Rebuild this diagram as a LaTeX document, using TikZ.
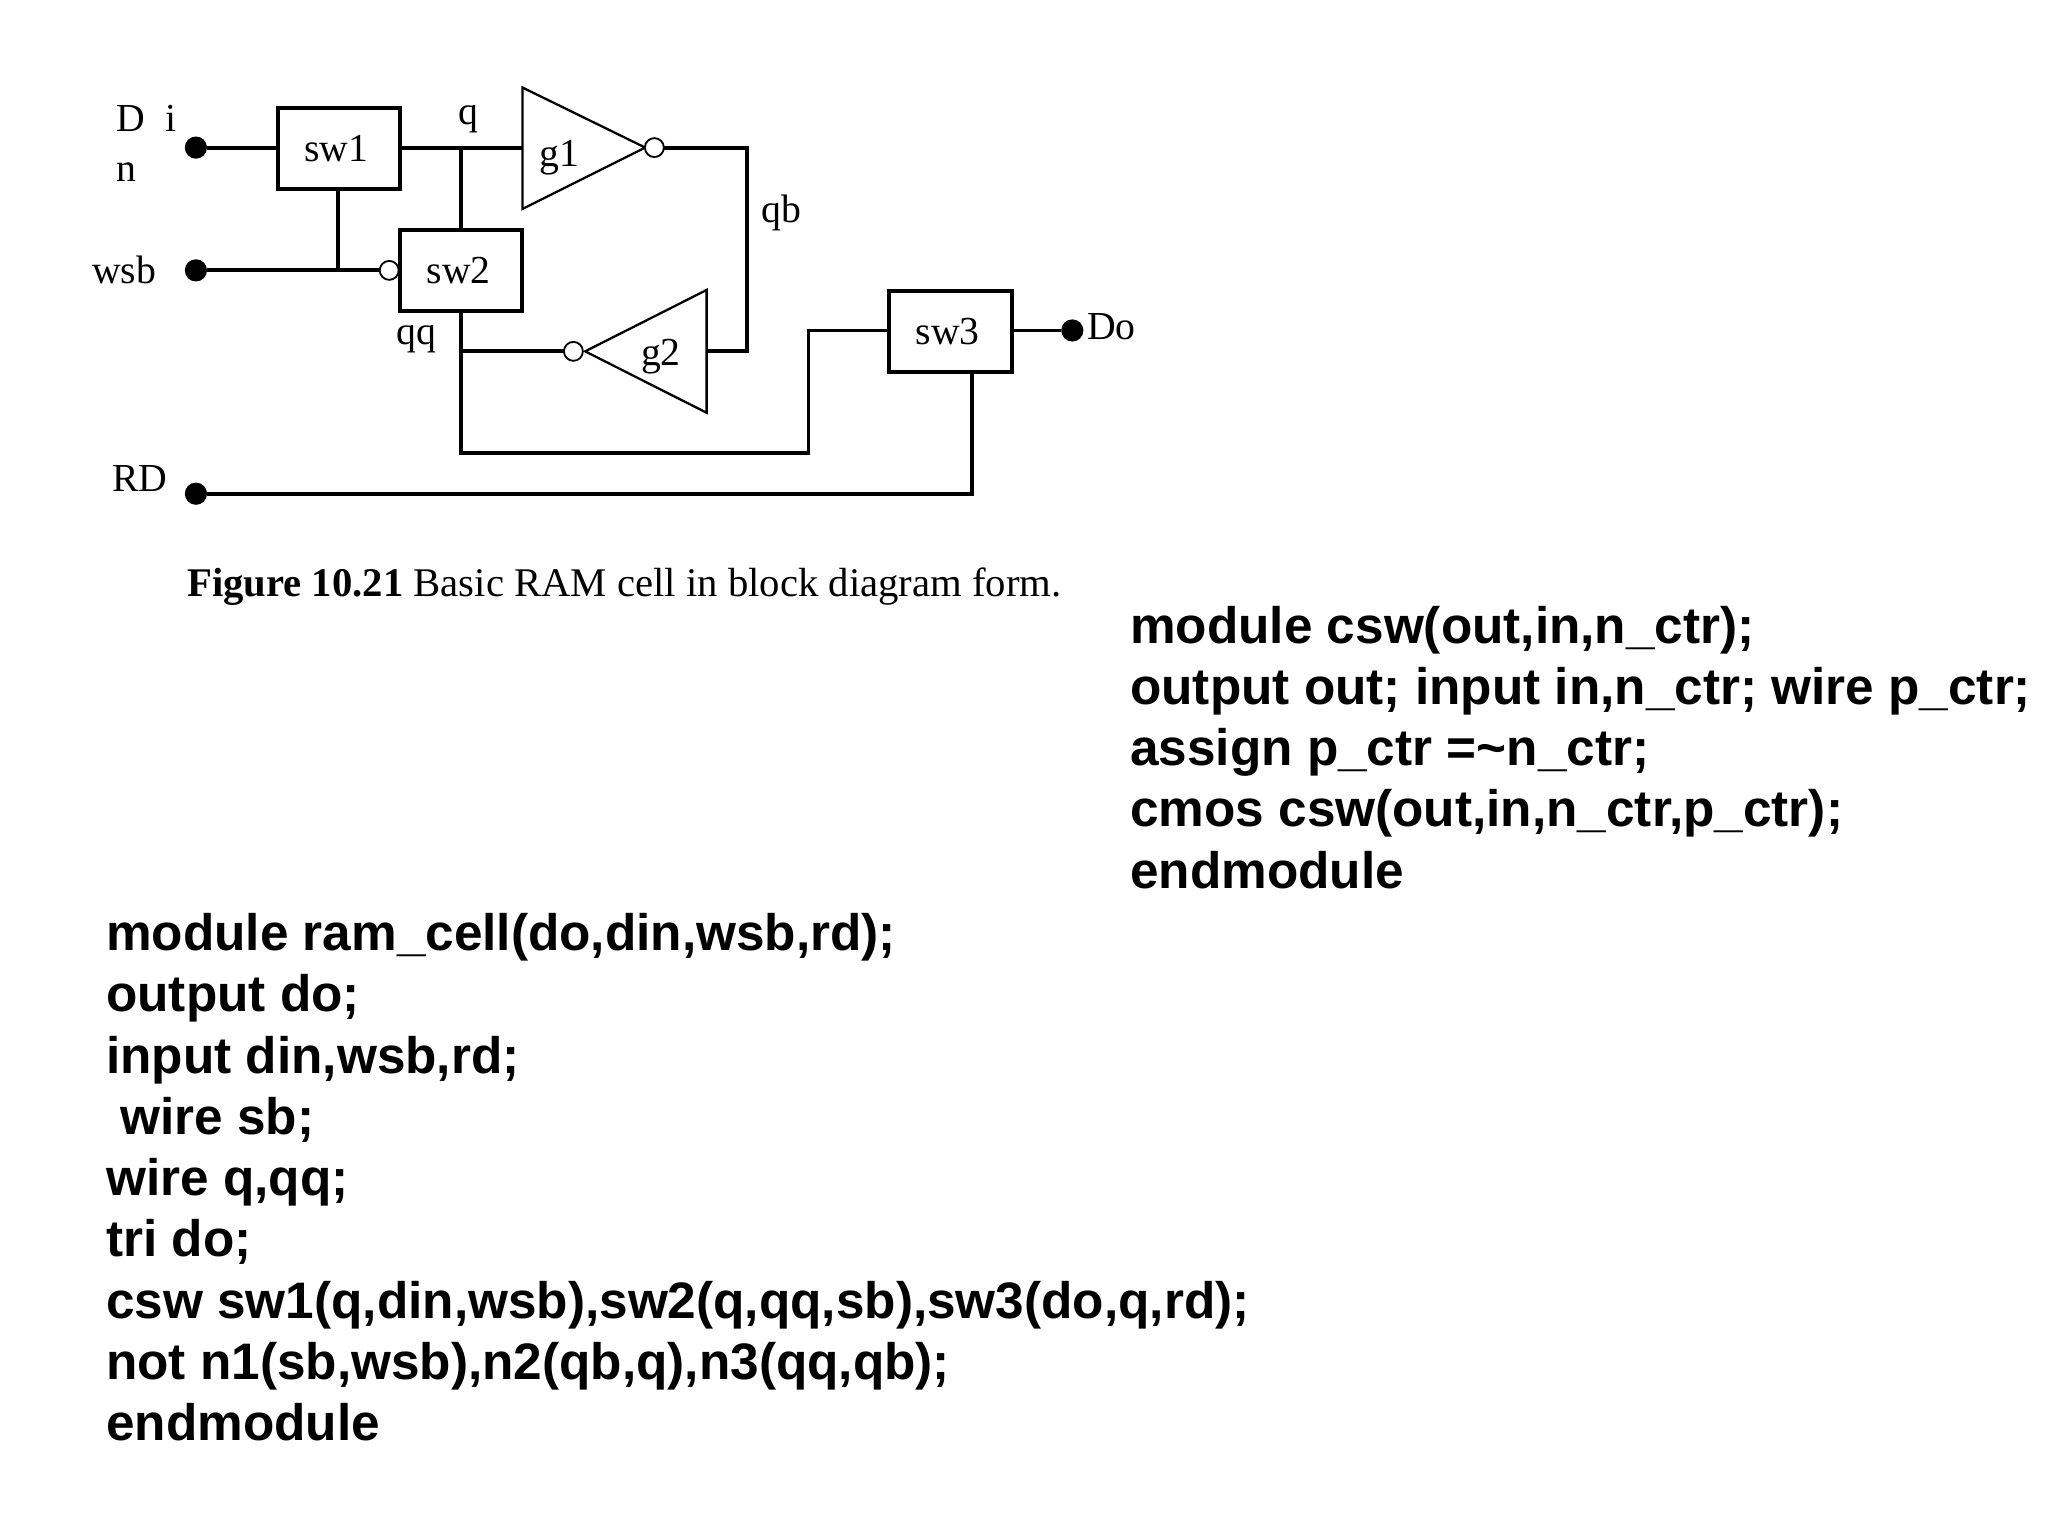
\documentclass[tikz,border=0pt]{standalone}
\usepackage{fontspec}
\setmainfont{Liberation Serif}
\newfontfamily\codefont{Liberation Sans}
\tikzset{
  wire/.style={line width=1.7pt},
  swbox/.style={draw, line width=1.7pt, minimum width=1.88cm, minimum height=1.24cm, inner sep=0pt, outer sep=0pt, font=\fontsize{17.3}{20}\selectfont},
  gate/.style={line width=1pt, line join=miter},
  bubble/.style={draw, circle, fill=white, line width=0.8pt, minimum size=0.29cm, inner sep=0pt, outer sep=0pt},
  pin/.style={fill=black, circle, minimum size=0.34cm, inner sep=0pt, outer sep=0pt},
  lab/.style={font=\fontsize{17.3}{20}\selectfont, inner sep=0pt},
  code/.style={anchor=north west, align=left, inner sep=0pt, font=\codefont\bfseries\fontsize{22.36}{26.7}\selectfont}
}
\begin{document}
\begin{tikzpicture}[x=0.02cm, y=-0.02cm]
    \useasboundingbox (0,0) rectangle (1568,1176);
    % pins
    \node[pin] (din) at (150,113){};
    \node[pin] (wsb) at (150,207){};
    \node[pin] (rd) at (150,378){};
    \node[pin] (dout) at (821,253){};
    % switches
    \node[swbox] (sw1) at (259.5,114){\raisebox{-1.1pt}{sw1}\hspace*{2.2pt}};
    \node[swbox] (sw2) at (353,207){sw2\hspace*{2.2pt}};
    \node[swbox] (sw3) at (727.5,253.5){sw3\hspace*{2.2pt}};
    % inverters
    \coordinate (g1a) at (400,67);\coordinate (g1b) at (400,160);\coordinate (g1c) at (494,113);
    \coordinate (g2a) at (541,222);\coordinate (g2b) at (541,316);\coordinate (g2c) at (448,269);
    \draw[gate] (g1a)--(g1b)--(g1c)--cycle;
    \draw[gate] (g2a)--(g2b)--(g2c)--cycle;
    \node[lab] (g1) at (428,121){g1};
    \node[lab] (g2) at (506,273){g2};
    \node[bubble] (bg1) at (501,113){};
    \node[bubble] (bg2) at (439,269){};
    \node[bubble] (bsw2) at (298,207){};
    % named bends
    \coordinate (qj) at (353,113);
    \coordinate (ctr) at (259,207);
    \coordinate (qbr) at (572,113);
    \coordinate (qbd) at (572,269);
    \coordinate (g2in) at (541,269);
    \coordinate (qqj) at (353,269);
    \coordinate (qqd) at (353,347);
    \coordinate (fbd) at (619,347);
    \coordinate (fbu) at (619,253);
    \coordinate (rdr) at (744,378);
    % wires
    \draw[wire] (din)--(din-|sw1.west);
    \draw[wire] (sw1.east|-din)--(g1a|-din);
    \draw[wire] (qj)--(qj|-sw2.north);
    \draw[wire] (ctr|-sw1.south)--(ctr);
    \draw[wire] (wsb)--(bsw2);
    \draw[wire] (bg1)--(qbr)--(qbd)--(g2in);
    \draw[wire] (bg2)--(qqj);
    \draw[wire] (qqj|-sw2.south)--(qqd)--(fbd)--(fbu)--(fbu-|sw3.west);
    \draw[wire] (rd)--(rdr)--(rdr|-sw3.south);
    \draw[wire] (sw3.east|-dout)--(dout);
    % labels
    \node[lab] (ldin) at (112,91){D\hspace{0.5em}i};
    \node[lab] (ln) at (97,132){n};
    \node[lab] (lwsb) at (95,207){wsb};
    \node[lab] (lrd) at (107,366){RD};
    \node[lab] (lq) at (359,91){q};
    \node[lab] (lqq) at (319,260){qq};
    \node[lab] (lqb) at (598,163){qb};
    \node[lab] (ldo) at (851,250){Do};
    \node[lab, anchor=west, font=\fontsize{17.74}{20}\selectfont] (cap) at (143,449){\textbf{Figure 10.21} Basic RAM cell in block diagram form.};
    % code
    \node[code] (csw) at (865,463.5){module csw(out,in,n\_ctr);\\
output out; input in,n\_ctr; wire p\_ctr;\\
assign p\_ctr =\textasciitilde n\_ctr;\\
cmos csw(out,in,n\_ctr,p\_ctr);\\
endmodule};
    \node[code] (ram) at (81,699){module ram\_cell(do,din,wsb,rd);\\
output do;\\
input din,wsb,rd;\\
\hspace*{6.2pt}wire sb;\\
wire q,qq;\\
tri do;\\
csw sw1(q,din,wsb),sw2(q,qq,sb),sw3(do,q,rd);\\
not n1(sb,wsb),n2(qb,q),n3(qq,qb);\\
endmodule};
\end{tikzpicture}
\end{document}
